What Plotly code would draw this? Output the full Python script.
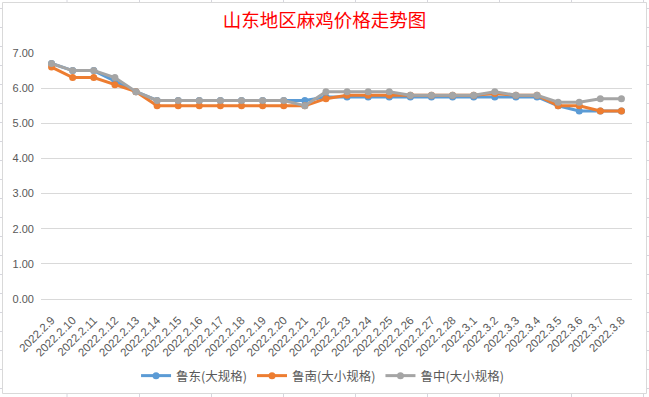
import plotly.graph_objects as go

dates = ["2022.2.9", "2022.2.10", "2022.2.11", "2022.2.12", "2022.2.13", "2022.2.14",
         "2022.2.15", "2022.2.16", "2022.2.17", "2022.2.18", "2022.2.19", "2022.2.20",
         "2022.2.21", "2022.2.22", "2022.2.23", "2022.2.24", "2022.2.25", "2022.2.26",
         "2022.2.27", "2022.2.28", "2022.3.1", "2022.3.2", "2022.3.3", "2022.3.4",
         "2022.3.5", "2022.3.6", "2022.3.7", "2022.3.8"]

ludong = [6.7, 6.5, 6.5, 6.2, 5.9, 5.65, 5.65, 5.65, 5.65, 5.65, 5.65, 5.65,
          5.65, 5.75, 5.75, 5.75, 5.75, 5.75, 5.75, 5.75, 5.75, 5.75, 5.75, 5.75,
          5.5, 5.35, 5.35, 5.35]
lunan = [6.6, 6.3, 6.3, 6.1, 5.9, 5.5, 5.5, 5.5, 5.5, 5.5, 5.5, 5.5,
         5.5, 5.7, 5.8, 5.8, 5.8, 5.8, 5.8, 5.8, 5.8, 5.85, 5.8, 5.8,
         5.5, 5.5, 5.35, 5.35]
luzhong = [6.7, 6.5, 6.5, 6.3, 5.9, 5.65, 5.65, 5.65, 5.65, 5.65, 5.65, 5.65,
           5.5, 5.9, 5.9, 5.9, 5.9, 5.8, 5.8, 5.8, 5.8, 5.9, 5.8, 5.8,
           5.6, 5.6, 5.7, 5.7]

series_names = ["鲁东(大规格)", "鲁南(大小规格)", "鲁中(大小规格)"]
series_colors = ["#5B9BD5", "#ED7D31", "#A5A5A5"]
title_text = "山东地区麻鸡价格走势图"

W, H = 649, 397
L, R, T, B = 41, 17, 53, 98
pw, ph = W - L - R, H - T - B

def px(x):
    return (x - L) / pw

def py(y):
    return (H - B - y) / ph

fig = go.Figure()
for name, vals, col in zip(series_names, [ludong, lunan, luzhong], series_colors):
    fig.add_trace(go.Scatter(
        x=dates, y=vals, name=name, mode="lines+markers",
        line=dict(color=col, width=3),
        marker=dict(color=col, size=7),
    ))

shapes = []
grid_col = "#D6D6DE"
# chart border
shapes.append(dict(type="rect", xref="paper", yref="paper",
                   x0=px(2.5), x1=px(646.5), y0=py(2.5), y1=py(393.5),
                   line=dict(color="#D9D9D9", width=1), layer="below"))
# spreadsheet cell lines peeking outside the chart
for cx in [67, 139.5, 211.5, 283.5, 355.5, 427.5, 499.5, 571.5, 643.5]:
    shapes.append(dict(type="line", xref="paper", yref="paper",
                       x0=px(cx), x1=px(cx), y0=py(0), y1=py(2),
                       line=dict(color=grid_col, width=1)))
    shapes.append(dict(type="line", xref="paper", yref="paper",
                       x0=px(cx), x1=px(cx), y0=py(394), y1=py(397),
                       line=dict(color=grid_col, width=1)))
for k in range(21):
    ry = 8.5 + 19 * k
    shapes.append(dict(type="line", xref="paper", yref="paper",
                       x0=px(0), x1=px(2), y0=py(ry), y1=py(ry),
                       line=dict(color=grid_col, width=1)))
    shapes.append(dict(type="line", xref="paper", yref="paper",
                       x0=px(647), x1=px(649), y0=py(ry), y1=py(ry),
                       line=dict(color=grid_col, width=1)))

fig.update_layout(
    width=W, height=H,
    margin=dict(l=L, r=R, t=T, b=B),
    paper_bgcolor="white", plot_bgcolor="white",
    title=dict(text=title_text, x=0.5, xref="container", xanchor="center",
               y=1 - 21 / H, yref="container", yanchor="middle",
               font=dict(family="Noto Sans CJK SC", size=18.5, color="#FF0000")),
    font=dict(family="Liberation Sans", color="#595959", size=11),
    legend=dict(orientation="h", x=0.497, xref="container", xanchor="center",
                y=1 - 376 / H, yref="container", yanchor="middle",
                font=dict(family="Noto Sans CJK SC", size=12.5, color="#595959"),
                itemwidth=30, tracegroupgap=0, bgcolor="rgba(0,0,0,0)"),
    showlegend=True,
    shapes=shapes,
    xaxis=dict(type="category", range=[-0.5, len(dates) - 0.5],
               tickmode="linear", tick0=0, dtick=1, tickangle=-45,
               showgrid=False, showline=True, linecolor="#D9D9D9", linewidth=1,
               ticks="", zeroline=False, automargin=False,
               ticklabelstandoff=9,
               tickfont=dict(family="Liberation Sans", size=11.5, color="#595959")),
    yaxis=dict(range=[0, 7], dtick=1, tick0=0, tickformat=".2f",
               showgrid=True, gridcolor="#D9D9D9", gridwidth=1,
               showline=False, zeroline=False, ticks="", automargin=False,
               ticklabelstandoff=6,
               tickfont=dict(family="Liberation Sans", size=11, color="#595959")),
)

fig.write_html("out.html", config={"displayModeBar": False},
               post_script="document.body.style.margin='0';document.body.style.overflow='hidden';")
